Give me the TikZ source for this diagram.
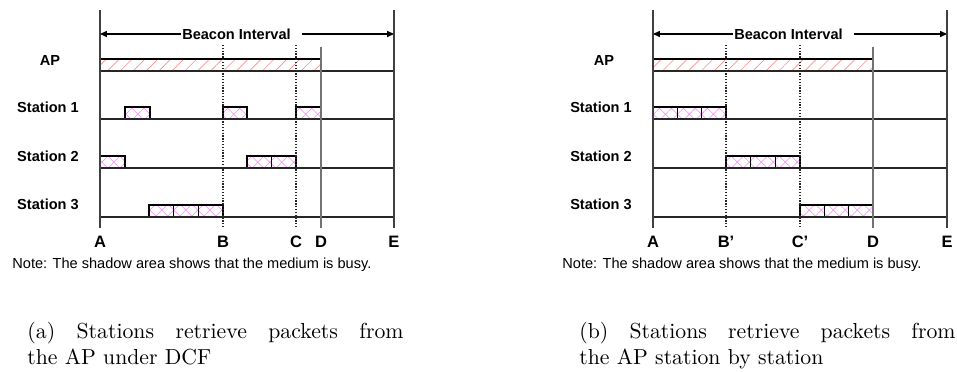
\documentclass[tikz,border=0pt]{standalone}
\usepackage{fontspec}
\setsansfont{Liberation Sans}
\usetikzlibrary{patterns.meta,arrows.meta}
\tikzset{
  lab/.style={font=\sffamily\bfseries\fontsize{6.7}{8}\selectfont, inner sep=0.5pt},
  axlab/.style={font=\sffamily\bfseries\fontsize{7.6}{9}\selectfont, inner sep=0pt},
  note/.style={font=\sffamily\fontsize{6.7}{8}\selectfont, inner sep=0pt, anchor=west},
  capt/.style={font=\fontsize{10}{12}\selectfont, inner sep=0pt, anchor=base west},
  edge/.style={line width=0.55pt, draw=black!75},
  dline/.style={line width=0.5pt, draw=black!85, dash pattern=on 0.6pt off 0.7pt},
  base/.style={line width=0.55pt, draw=black!85},
  beacon/.style={line width=0.55pt, draw=black, -{Triangle[length=3.2pt,width=2.8pt]}},
  apbar/.style={draw=black, line width=0.6pt, pattern={Lines[angle=45,distance=4.2pt,line width=0.3pt]}, pattern color=red!45},
  pkt/.style={draw=black, line width=0.55pt, pattern={Hatch[angle=45,distance=3.9pt,line width=0.25pt]}, pattern color=magenta!50},
}
\begin{document}
\begin{tikzpicture}[x=0.46pt,y=-0.46pt]
\useasboundingbox (0,0) rectangle (957,372);

% ================= panel (a) =================
\coordinate (aAt) at (100,10);  \coordinate (aAb) at (100,228);
\coordinate (aEt) at (394,10);  \coordinate (aEb) at (394,228);
\coordinate (aDt) at (321,47);  \coordinate (aDb) at (321,228);
\coordinate (aBt) at (223,45);  \coordinate (aBb) at (223,228);
\coordinate (aCt) at (296,45);  \coordinate (aCb) at (296,228);

% hatched bars and packets
\draw[apbar] (100,59) rectangle (321,71);
\draw[pkt] (125,107) rectangle (150,119);
\draw[pkt] (223,107) rectangle (247,119);
\draw[pkt] (296,107) rectangle (321,119);
\draw[pkt] (100,156) rectangle (125,168);
\draw[pkt] (247,156) rectangle (271.5,168);
\draw[pkt] (271.5,156) rectangle (296,168);
\draw[pkt] (149,205) rectangle (173.7,217);
\draw[pkt] (173.7,205) rectangle (198.3,217);
\draw[pkt] (198.3,205) rectangle (223,217);

% baselines
\coordinate (aL0s) at (100,71);  \coordinate (aL0e) at (394,71);
\coordinate (aL1s) at (100,119); \coordinate (aL1e) at (394,119);
\coordinate (aL2s) at (100,168); \coordinate (aL2e) at (394,168);
\coordinate (aL3s) at (100,217); \coordinate (aL3e) at (394,217);
\draw[base] (aL0s) -- (aL0e);
\draw[base] (aL1s) -- (aL1e);
\draw[base] (aL2s) -- (aL2e);
\draw[base] (aL3s) -- (aL3e);

% vertical lines
\draw[edge] (aAt) -- (aAb);
\draw[edge] (aEt) -- (aEb);
\draw[line width=0.6pt, draw=black!55] (aDt) -- (aDb);
\draw[dline] (aBt) -- (aBb);
\draw[dline] (aCt) -- (aCb);

% beacon interval
\node[lab] (abi) at (236.5,34) {Beacon Interval};
\coordinate (aArrL) at (100,34);
\coordinate (aArrRs) at (302,34);
\coordinate (aArrR) at (394,34);
\draw[beacon] (abi.west) -- (aArrL);
\draw[beacon] (aArrRs) -- (aArrR);

% row labels
\node[lab] (aAP) at (50,60) {AP};
\node[lab] (aS1) at (48,107) {Station 1};
\node[lab] (aS2) at (48,156) {Station 2};
\node[lab] (aS3) at (48,204.5) {Station 3};

% axis labels
\node[axlab] (aA) at (100,242) {A};
\node[axlab] (aB) at (223,242) {B};
\node[axlab] (aC) at (296,242) {C};
\node[axlab] (aD) at (321,242) {D};
\node[axlab] (aE) at (394,242) {E};

\node[note] (anote) at (12,265) {Note: The shadow area shows that the medium is busy.};

\node[capt] (acap1) at (27,339) {\makebox[173pt][s]{(a) Stations retrieve packets from}};
\node[capt] (acap2) at (27,365) {the AP under DCF};

% ================= panel (b) =================
\coordinate (bAt) at (653,10);  \coordinate (bAb) at (653,228);
\coordinate (bEt) at (947,10);  \coordinate (bEb) at (947,228);
\coordinate (bDt) at (873,47);  \coordinate (bDb) at (873,228);
\coordinate (bBt) at (726,45);  \coordinate (bBb) at (726,228);
\coordinate (bCt) at (800,45);  \coordinate (bCb) at (800,228);

\draw[apbar] (653,59) rectangle (873,71);
\draw[pkt] (653,107) rectangle (677.3,119);
\draw[pkt] (677.3,107) rectangle (701.7,119);
\draw[pkt] (701.7,107) rectangle (726,119);
\draw[pkt] (726,156) rectangle (750.7,168);
\draw[pkt] (750.7,156) rectangle (775.3,168);
\draw[pkt] (775.3,156) rectangle (800,168);
\draw[pkt] (800,205) rectangle (824.3,217);
\draw[pkt] (824.3,205) rectangle (848.7,217);
\draw[pkt] (848.7,205) rectangle (873,217);

\coordinate (bL0s) at (653,71);  \coordinate (bL0e) at (947,71);
\coordinate (bL1s) at (653,119); \coordinate (bL1e) at (947,119);
\coordinate (bL2s) at (653,168); \coordinate (bL2e) at (947,168);
\coordinate (bL3s) at (653,217); \coordinate (bL3e) at (947,217);
\draw[base] (bL0s) -- (bL0e);
\draw[base] (bL1s) -- (bL1e);
\draw[base] (bL2s) -- (bL2e);
\draw[base] (bL3s) -- (bL3e);

\draw[edge] (bAt) -- (bAb);
\draw[edge] (bEt) -- (bEb);
\draw[line width=0.6pt, draw=black!55] (bDt) -- (bDb);
\draw[dline] (bBt) -- (bBb);
\draw[dline] (bCt) -- (bCb);

\node[lab] (bbi) at (788.5,34) {Beacon Interval};
\coordinate (bArrL) at (653,34);
\coordinate (bArrRs) at (854,34);
\coordinate (bArrR) at (947,34);
\draw[beacon] (bbi.west) -- (bArrL);
\draw[beacon] (bArrRs) -- (bArrR);

\node[lab] (bAP) at (604,60) {AP};
\node[lab] (bS1) at (601,107) {Station 1};
\node[lab] (bS2) at (601,156) {Station 2};
\node[lab] (bS3) at (601,204.5) {Station 3};

\node[axlab] (bA) at (653,242) {A};
\node[axlab] (bB) at (726,242) {B'};
\node[axlab] (bC) at (800,242) {C'};
\node[axlab] (bD) at (873,242) {D};
\node[axlab] (bE) at (947,242) {E};

\node[note] (bnote) at (562,265) {Note: The shadow area shows that the medium is busy.};

\node[capt] (bcap1) at (579,339) {\makebox[173pt][s]{(b) Stations retrieve packets from}};
\node[capt] (bcap2) at (579,365) {the AP station by station};
\end{tikzpicture}
\end{document}
